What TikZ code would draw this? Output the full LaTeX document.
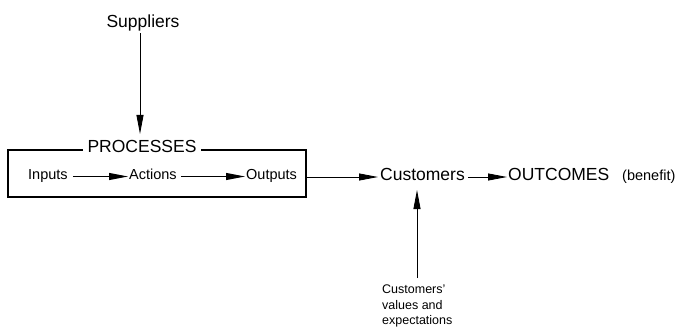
\documentclass[tikz,border=0pt]{standalone}
\usepackage{fontspec}
\setmainfont{Liberation Sans}
\usetikzlibrary{arrows.meta}
\begin{document}
\begin{tikzpicture}[x=1pt,y=-1pt,
  big/.style={font=\fontsize{17.5}{19}\selectfont, inner sep=0pt, text height=0.66em, text depth=0em},
  small/.style={font=\fontsize{14.5}{17}\selectfont, inner sep=0pt, text height=0.66em, text depth=0em},
  arr/.style={line width=0.9pt, -{Stealth[length=19pt,width=7pt,inset=0pt]}},
  frame/.style={draw, line width=1.5pt}]
\useasboundingbox (0,0) rectangle (678,329);
\node[big] (sup) at (143,24) {Suppliers};
\node[frame, minimum width=298pt, minimum height=47pt, inner sep=0pt] (box) at (157,173.5) {};
\node[big, fill=white, inner xsep=5pt, inner ysep=3pt] (proc) at (142,149) {PROCESSES};
\node[small, anchor=west] (in) at (28,176.5) {Inputs};
\node[small, anchor=west] (act) at (129,176.5) {Actions};
\node[small, anchor=west] (out) at (246,176.5) {Outputs};
\node[big, anchor=west] (cust) at (380,177) {Customers};
\node[big, anchor=west] (outc) at (508,177) {OUTCOMES};
\node[font=\fontsize{14.5}{16}\selectfont, inner sep=0pt, text height=0.66em, text depth=0em, anchor=west] (ben) at (622,177) {(benefit)};
\node[font=\fontsize{12.5}{15.5}\selectfont, inner sep=0pt, anchor=north west, align=left] (cv) at (382,285) {Customers'\\values and\\expectations};
\coordinate (supend) at (140,134);
\coordinate (cvtop) at (417,278);
\coordinate (custbot) at (417,190);
\draw[arr] (sup.south -| supend) ++(0,6) -- (supend);
\draw[arr] ([xshift=5pt]in.east) -- ([xshift=-1pt]act.west);
\draw[arr] ([xshift=4pt]act.east) -- ([xshift=-1pt]out.west);
\draw[arr] (box.east |- cust.west) -- ([xshift=-2pt]cust.west);
\draw[arr] ([xshift=3pt]cust.east) -- ([xshift=-1pt]outc.west);
\draw[arr] (cvtop) -- (custbot);
\end{tikzpicture}
\end{document}
